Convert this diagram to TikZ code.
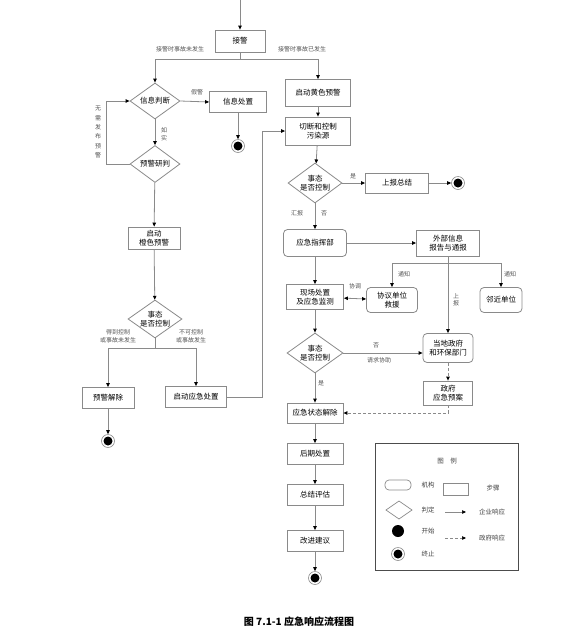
\documentclass[tikz,border=0pt]{standalone}
\usepackage{fontspec}
\setmainfont{Noto Sans CJK SC}
\usetikzlibrary{positioning,arrows.meta,calc,shapes.geometric}
\definecolor{linegray}{HTML}{8A8A8A}
\definecolor{labelgray}{HTML}{555555}

\begin{document}
\begin{tikzpicture}[x=1pt,y=-1pt,
  stepbox/.style={draw=linegray, line width=0.8pt, inner sep=1pt, align=center, font=\fontsize{7.5}{9}\selectfont},
  orgbox/.style={stepbox, rounded corners=4pt},
  judge/.style={draw=linegray, line width=0.8pt, diamond, inner sep=0pt},
  endmark/.style={circle, draw=linegray, line width=0.6pt, minimum size=13pt, inner sep=0pt,
    path picture={\fill[black] (path picture bounding box.center) circle (4.5pt);}},
  arr/.style={draw=linegray, line width=0.8pt, -{Triangle[length=4pt,width=3.5pt,color=black]}},
  dblarr/.style={draw=linegray, line width=0.8pt,
    {Triangle[length=4pt,width=3.5pt,color=black]}-{Triangle[length=4pt,width=3.5pt,color=black]}},
  darr/.style={arr, densely dashed},
  lbl/.style={text=labelgray, inner sep=0pt, align=center, font=\fontsize{6}{7.5}\selectfont},
  lgtext/.style={lbl, text=black!75, font=\fontsize{6.5}{8}\selectfont}]
\useasboundingbox (0,0) rectangle (579,641);

\coordinate (top) at (240,0);
\node[stepbox, minimum width=50pt, minimum height=22pt] (jiejing) at (240,41) {接警};
\draw[arr] (top) -- (jiejing);
\coordinate (fork1) at (240,59);
\node[lbl] (l1) at (180,49) {接警时事故未发生};
\node[lbl] (l2) at (302,49) {接警时事故已发生};

% left branch
\node[judge, minimum width=50pt, minimum height=36pt,
  label={[font=\fontsize{7.5}{9}\selectfont]center:信息判断}] (xxpd) at (155,101) {};
\node[stepbox, minimum width=57pt, minimum height=21pt] (xxcz) at (238,102) {信息处置};
\node[endmark] (end1) at (238,146) {};
\node[judge, minimum width=50pt, minimum height=37pt,
  label={[font=\fontsize{7.5}{9}\selectfont]center:预警研判}] (yjyp) at (155,164) {};
\node[stepbox, minimum width=52pt, minimum height=22pt] (qdcs) at (154,238) {启动\\橙色预警};
\node[judge, minimum width=54pt, minimum height=38pt,
  label={[align=center, font=\fontsize{7.5}{9}\selectfont]center:事态\\是否控制}] (stkz1) at (155,319) {};
\coordinate (fork2) at (155,348);
\node[stepbox, minimum width=52pt, minimum height=21pt] (yjjc) at (108,398) {预警解除};
\node[stepbox, minimum width=61pt, minimum height=21pt] (qdyj) at (196,397) {启动应急处置};
\node[endmark] (end2) at (108,441) {};

\draw[arr] (jiejing) -- (fork1) -| (xxpd.north);
\draw[arr] (xxpd.east) -- (xxcz.west);
\node[lbl] (l3) at (197,92) {假警};
\draw[arr] (xxcz) -- (end1);
\draw[arr] (xxpd) -- (yjyp);
\node[lbl] (l4) at (164,134) {如\\实};
\draw[arr] (yjyp.west) -- ++(-23,0) |- (xxpd.west);
\node[lbl, font=\fontsize{6}{9.3}\selectfont] (l5) at (98,132) {无\\需\\发\\布\\预\\警};
\draw[arr] (yjyp) -- (qdcs);
\draw[arr] (qdcs) -- (stkz1);
\draw[arr] (stkz1) -- (fork2) -| (yjjc.north);
\draw[arr] (fork2) -| (qdyj.north);
\node[lbl] (l6) at (118,336) {得到控制\\或事故未发生};
\node[lbl] (l7) at (191,336) {不可控制\\或事故发生};
\draw[arr] (yjjc) -- (end2);

% right branch
\node[stepbox, minimum width=65pt, minimum height=27pt] (hsyj) at (318,93) {启动黄色预警};
\node[stepbox, minimum width=65pt, minimum height=28pt] (qdwr) at (318,131) {切断和控制\\污染源};
\node[judge, minimum width=54pt, minimum height=40pt,
  label={[align=center, font=\fontsize{7.5}{9}\selectfont]center:事态\\是否控制}] (stkz2) at (315,183) {};
\node[stepbox, minimum width=63pt, minimum height=20pt] (sbzj) at (397,183) {上报总结};
\node[endmark] (end3) at (458,183) {};
\node[orgbox, minimum width=63pt, minimum height=27pt] (yjzhb) at (315,243) {应急指挥部};
\node[stepbox, minimum width=63pt, minimum height=26pt] (wbxx) at (448,243) {外部信息\\报告与通报};
\coordinate (fork3) at (448,263);
\node[orgbox, minimum width=51pt, minimum height=25pt] (xydw) at (392,300) {协议单位\\救援};
\node[orgbox, minimum width=42pt, minimum height=25pt] (ljdw) at (501,300) {邻近单位};
\node[stepbox, minimum width=57pt, minimum height=25pt] (xccz) at (315,297) {现场处置\\及应急监测};
\node[judge, minimum width=56pt, minimum height=40pt,
  label={[align=center, font=\fontsize{7.5}{9}\selectfont]center:事态\\是否控制}] (stkz3) at (315,353) {};
\node[orgbox, minimum width=50pt, minimum height=29pt] (ddzf) at (448,348) {当地政府\\和环保部门};
\node[stepbox, minimum width=49pt, minimum height=24pt] (zfya) at (448,393) {政府\\应急预案};
\node[stepbox, minimum width=56pt, minimum height=20pt] (yjztjc) at (315,413) {应急状态解除};
\node[stepbox, minimum width=56pt, minimum height=21pt] (hqcz) at (315,454) {后期处置};
\node[stepbox, minimum width=56pt, minimum height=21pt] (zjpg) at (315,495) {总结评估};
\node[stepbox, minimum width=56pt, minimum height=21pt] (gjjy) at (315,541) {改进建议};
\node[endmark] (end4) at (315,578) {};

\draw[arr] (fork1) -| (hsyj.north);
\draw[arr] (qdyj.east) -- ++(35,0) |- (qdwr.west);
\draw[arr] (hsyj) -- (qdwr);
\draw[arr] (qdwr) -- (stkz2);
\draw[arr] (stkz2.east) -- (sbzj.west);
\node[lbl] (l8) at (353,176) {是};
\draw[arr] (sbzj) -- (end3);
\draw[arr] (stkz2) -- (yjzhb);
\node[lbl] (l9) at (297,213) {汇报};
\node[lbl] (l10) at (324,213) {否};
\draw[arr] (yjzhb) -- (wbxx);
\draw[linegray, line width=0.8pt] (wbxx) -- (fork3);
\draw[arr] (fork3) -| (xydw.north);
\draw[arr] (fork3) -| (ljdw.north);
\draw[arr] (fork3) -- (ddzf.north);
\node[lbl] (l11) at (404,274) {通知};
\node[lbl] (l12) at (510,274) {通知};
\node[lbl] (l13) at (456,300) {上\\报};
\draw[arr] (yjzhb) -- (xccz);
\draw[dblarr] (xccz) -- (xydw);
\node[lbl] (l14) at (355,286) {协调};
\draw[arr] (xccz) -- (stkz3);
\draw[arr] (stkz3.east) -- (stkz3.east -| ddzf.west);
\node[lbl] (l15) at (376,345) {否};
\node[lbl] (l16) at (379,360) {请求协助};
\draw[darr] (ddzf) -- (zfya);
\draw[arr] (stkz3) -- (yjztjc);
\node[lbl] (l17) at (321,383) {是};
\draw[darr] (zfya.south) |- (yjztjc.east);
\draw[arr] (yjztjc) -- (hqcz);
\draw[arr] (hqcz) -- (zjpg);
\draw[arr] (zjpg) -- (gjjy);
\draw[arr] (gjjy) -- (end4);

% legend
\draw[draw=black!70, line width=0.8pt] (375,443) rectangle (518,570);
\node[lgtext] (lgtitle) at (447,461) {图\quad 例};
\draw[linegray, line width=0.7pt, rounded corners=4pt] (385,480) rectangle (411,490);
\node[lgtext] (lg1) at (428,485) {机构};
\draw[linegray, line width=0.7pt] (443,483) rectangle (468,495);
\node[lgtext] (lg2) at (493,488) {步骤};
\draw[linegray, line width=0.7pt] (386,510) -- (399,501) -- (412,510) -- (399,519) -- cycle;
\node[lgtext] (lg3) at (428,510) {判定};
\draw[arr, line width=0.5pt] (445,512) -- (466,512);
\node[lgtext] (lg4) at (492,512) {企业响应};
\fill (398,531) circle (6pt);
\node[lgtext] (lg5) at (428,531) {开始};
\draw[darr, line width=0.5pt] (445,538) -- (466,538);
\node[lgtext] (lg6) at (492,538) {政府响应};
\node[endmark] (lgend) at (398,554) {};
\node[lgtext] (lg7) at (428,554) {终止};

\node[font=\fontsize{10}{12}\selectfont\bfseries] (caption) at (299,622) {图 7.1-1 应急响应流程图};
\end{tikzpicture}
\end{document}
